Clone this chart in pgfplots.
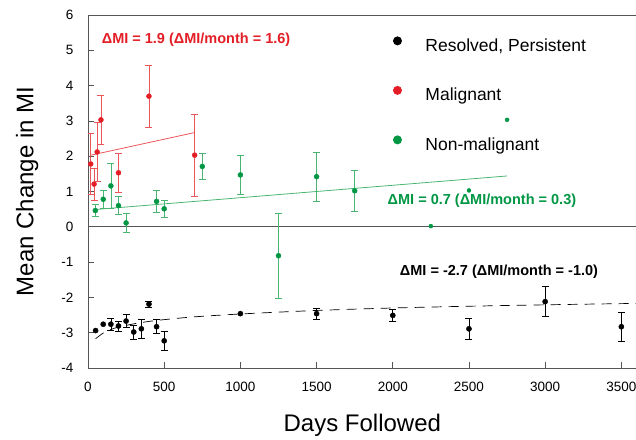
\documentclass[border=0pt]{standalone}
\usepackage{fontspec}
\setmainfont{Liberation Sans}
\usepackage{pgfplots}
\pgfplotsset{compat=1.18}

\definecolor{malig}{RGB}{228,30,38}
\definecolor{maliglt}{RGB}{236,85,90}
\definecolor{nonmal}{RGB}{0,150,68}
\definecolor{nonmallt}{RGB}{72,182,112}
\definecolor{framegray}{RGB}{85,85,85}

\begin{document}
\begin{tikzpicture}
\path[use as bounding box] (-88pt,-71pt) rectangle (548pt,368pt);
\begin{axis}[
  at={(0,0)}, anchor=south west,
  scale only axis, width=548.6pt, height=353pt,
  xmin=0, xmax=3600, ymin=-4, ymax=6,
  xtick={0,500,...,3500}, ytick={-4,-3,...,6},
  xtick pos=left, ytick pos=left, tick align=inside,
  major tick length=6pt,
  axis line style={framegray, line width=0.8pt},
  tick style={framegray, line width=0.8pt},
  /pgf/number format/assume math mode=true,
  /pgf/number format/set thousands separator={},
  ticklabel style={font=\fontsize{13.5}{16}\selectfont},
  xticklabel style={yshift=-11pt},
  yticklabel style={xshift=-11pt},
  xlabel={Days Followed}, ylabel={Mean Change in MI},
  label style={font=\fontsize{24}{28}\selectfont},
  xlabel style={at={(axis description cs:0.5,-0.1615)}, anchor=center},
  ylabel style={at={(axis description cs:-0.111,0.5)}, anchor=center},
  legend cell align=left,
  legend style={draw=none, fill=none, inner sep=0pt,
    at={(axis cs:2000,5.40)}, anchor=north west,
    font=\fontsize{17.5}{20}\selectfont,
    nodes={inner sep=0pt, text height=12.5pt, text depth=3.5pt},
    row sep=31pt, column sep=0pt},
]

% zero reference line
\draw[framegray, line width=0.8pt] (axis cs:0,0) -- (axis cs:3600,0);

% fitted trends
\addplot[forget plot, maliglt, line width=0.8pt] coordinates {(20,2.03) (700,2.67)};
\addplot[forget plot, nonmallt, line width=0.8pt] coordinates {(48,0.49) (2750,1.44)};
\addplot[forget plot, black, line width=0.7pt, dash pattern=on 10pt off 7pt, smooth]
  coordinates {(50,-3.17) (100,-3.01) (150,-2.91) (200,-2.84) (300,-2.75) (400,-2.68)
               (500,-2.63) (700,-2.55) (1000,-2.47) (1500,-2.37) (2000,-2.30)
               (2500,-2.25) (3000,-2.21) (3600,-2.17)};

% Resolved, Persistent
\addplot[only marks, mark=*, black, mark size=2.6pt,
  legend image code/.code={\path[draw=none, fill=none] (0,0) rectangle (32.5pt,10.5pt);
                           \fill[black, draw=none] (4.5pt,6pt) circle (4.5pt);},
  error bars/.cd, y dir=both, y explicit,
  error bar style={black, line width=0.7pt},
  error mark options={rotate=90, mark size=3.5pt, black, line width=0.7pt}]
  coordinates {
    (150,-2.76) +- (0,0.18)
    (200,-2.81) +- (0,0.14)
    (250,-2.67) +- (0,0.18)
    (300,-2.98) +- (0,0.20)
    (350,-2.89) +- (0,0.28)
    (400,-2.19) +- (0,0.09)
    (450,-2.83) +- (0,0.20)
    (500,-3.23) +- (0,0.27)
    (1500,-2.46) +- (0,0.15)
    (2000,-2.51) +- (0,0.16)
    (2500,-2.89) +- (0,0.31)
    (3000,-2.12) +- (0,0.43)
    (3500,-2.83) +- (0,0.41)
  };
\addlegendentry{Resolved, Persistent}

% Malignant
\addplot[only marks, mark=*, malig, mark size=2.5pt,
  legend image code/.code={\path[draw=none, fill=none] (0,0) rectangle (32.5pt,10.5pt);
                           \fill[malig, draw=none] (4.5pt,6pt) circle (4.5pt);},
  error bars/.cd, y dir=both, y explicit,
  error bar style={maliglt, line width=0.7pt},
  error mark options={rotate=90, mark size=3.5pt, maliglt, line width=0.7pt}]
  coordinates {
    (18,1.78) +- (0,0.86)
    (40,1.21) +- (0,0.46)
    (60,2.12) +- (0,0.83)
    (85,3.03) +- (0,0.70)
    (200,1.53) +- (0,0.56)
    (400,3.70) +- (0,0.88)
    (700,2.03) +- (0,1.16)
  };
\addlegendentry{Malignant}

% Non-malignant
\addplot[only marks, mark=*, nonmal, mark size=2.5pt,
  legend image code/.code={\path[draw=none, fill=none] (0,0) rectangle (32.5pt,10.5pt);
                           \fill[nonmal, draw=none] (4.5pt,6pt) circle (4.5pt);},
  error bars/.cd, y dir=both, y explicit,
  error bar style={nonmallt, line width=0.7pt},
  error mark options={rotate=90, mark size=3.5pt, nonmallt, line width=0.7pt}]
  coordinates {
    (48,0.46) +- (0,0.17)
    (100,0.78) +- (0,0.25)
    (150,1.16) +- (0,0.64)
    (200,0.60) +- (0,0.26)
    (250,0.11) +- (0,0.27)
    (450,0.72) +- (0,0.30)
    (500,0.51) +- (0,0.23)
    (750,1.71) +- (0,0.37)
    (1000,1.47) +- (0,0.55)
    (1250,-0.82) +- (0,1.20)
    (1500,1.42) +- (0,0.69)
    (1750,1.02) +- (0,0.58)
  };
\addlegendentry{Non-malignant}

% points without error bars
\addplot[forget plot, only marks, mark=*, black, mark size=2.6pt]
  coordinates {(50,-2.94) (100,-2.76) (1000,-2.46)};
\addplot[forget plot, only marks, mark=*, nonmal, mark size=2pt]
  coordinates {(2250,0.02) (2500,1.03) (2750,3.03)};

% summary of changes
\node[malig, font=\bfseries\fontsize{14.5}{16}\selectfont] at (axis cs:709,5.30)
  {ΔMI = 1.9 (ΔMI/month = 1.6)};
\node[nonmal, font=\bfseries\fontsize{14.5}{16}\selectfont] at (axis cs:2585,0.745)
  {ΔMI = 0.7 (ΔMI/month = 0.3)};
\node[black, font=\bfseries\fontsize{14.5}{16}\selectfont] at (axis cs:2697,-1.266)
  {ΔMI = -2.7 (ΔMI/month = -1.0)};
\end{axis}
\end{tikzpicture}
\end{document}
